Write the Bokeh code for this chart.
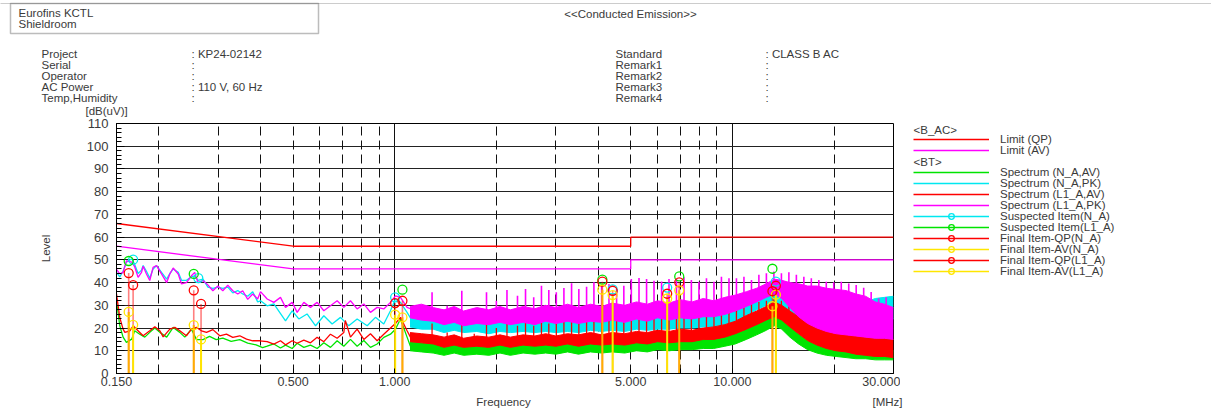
import numpy as np
from bokeh.plotting import figure
from bokeh.layouts import column, row
from bokeh.models import (Label, Legend, LegendItem, FixedTicker, Grid,
                          CustomJSTickFormatter, Range1d, BoxAnnotation)
from bokeh.embed import file_html
from bokeh.resources import INLINE

# ---------------- data (MHz, dB(uV)) ----------------
x_tick_vals = [0.15, 0.5, 1.0, 5.0, 10.0, 30.0]
x_minor_vals = [0.2, 0.3, 0.4, 0.6, 0.7, 0.8, 0.9, 2, 3, 4, 6, 7, 8, 9, 20]
x_dash_grid = [0.2, 0.3, 0.4, 0.5, 0.6, 0.7, 0.8, 0.9, 2, 3, 4, 5, 6, 7, 8, 9, 20]
x_solid_grid = [1.0, 10.0]
y_tick_vals = list(range(0, 111, 10))
y_minor_vals = list(range(0, 111, 2))

limit_f = [0.15, 0.5, 0.5, 5.0, 5.0, 30.0]
limit_qp = [66, 56, 56, 56, 60, 60]
limit_av = [56, 46, 46, 46, 50, 50]

# L1_A PK (magenta) low-frequency part
l1pk_f = [0.150, 0.1534, 0.1569, 0.1605, 0.1664, 0.1698, 0.1738, 0.1779, 0.1799, 0.1840,
          0.1882, 0.1925, 0.1971, 0.2039, 0.2112, 0.2158, 0.2208, 0.2285, 0.2337, 0.2416,
          0.2501, 0.2557, 0.2615, 0.2705, 0.2797, 0.2894, 0.2994, 0.3097, 0.3204, 0.3315,
          0.3429, 0.3547, 0.3670, 0.3797, 0.3928, 0.4005, 0.4191, 0.4386, 0.4589, 0.4749,
          0.4970, 0.5142, 0.5381, 0.5631, 0.5893, 0.6167, 0.6453, 0.6753, 0.7067, 0.7395,
          0.7740, 0.8100, 0.8476, 0.8871, 0.9282, 0.9714, 1.005, 1.040, 1.088, 1.113]
l1pk_db = [45.8, 43.8, 44.5, 49.6, 49.0, 47.0, 42.3, 44.5, 47.2, 43.8,
           40.9, 46.7, 47.5, 43.8, 40.0, 43.8, 46.4, 43.8, 39.4, 40.0,
           43.0, 44.5, 40.0, 40.9, 39.0, 36.4, 38.5, 36.4, 38.9, 36.4,
           35.0, 36.4, 32.6, 35.0, 32.8, 36.0, 32.8, 31.3, 33.5, 29.1,
           31.3, 26.9, 31.3, 29.1, 31.3, 27.6, 29.8, 32.0, 29.1, 32.0,
           28.4, 30.6, 26.9, 29.1, 28.4, 31.3, 34.2, 33.5, 29.1, 28.5]

# N_A PK (cyan) low-frequency part
npk_f = [0.150, 0.1534, 0.1569, 0.1605, 0.1664, 0.1698, 0.1738, 0.1779, 0.1799, 0.1840,
         0.1882, 0.1925, 0.1971, 0.2039, 0.2112, 0.2158, 0.2208, 0.2285, 0.2337, 0.2416,
         0.2501, 0.2557, 0.2615, 0.2705, 0.2797, 0.2894, 0.2994, 0.3097, 0.3204, 0.3315,
         0.3429, 0.3547, 0.3670, 0.3797, 0.3928, 0.4005, 0.4191, 0.4386, 0.4749, 0.4970,
         0.5200, 0.5500, 0.5830, 0.6167, 0.6525, 0.6910, 0.7310, 0.7740, 0.8290, 0.8770,
         0.9280, 0.9714, 1.005, 1.040, 1.088, 1.113]
npk_db = [44.5, 42.5, 45.0, 49.0, 50.5, 48.0, 44.0, 45.5, 47.5, 45.0,
          42.0, 46.0, 47.5, 44.5, 41.5, 44.0, 46.0, 44.5, 41.0, 41.0,
          42.5, 43.0, 41.0, 41.5, 38.0, 37.5, 38.0, 37.5, 38.0, 35.5,
          36.5, 35.0, 34.0, 36.0, 31.5, 32.0, 29.8, 30.6, 23.2, 27.6,
          24.0, 26.2, 21.0, 25.4, 21.8, 24.7, 21.0, 24.0, 21.0, 24.7,
          21.8, 27.6, 32.8, 31.3, 26.9, 24.5]

# L1_A AV (red) low-frequency part
l1av_f = [0.150, 0.1534, 0.1569, 0.1588, 0.1643, 0.1681, 0.1719, 0.1799, 0.1882, 0.1948,
          0.2016, 0.2062, 0.2158, 0.2233, 0.2310, 0.2416, 0.2501, 0.2588, 0.2678, 0.2771,
          0.2894, 0.3034, 0.3175, 0.3315, 0.3477, 0.3640, 0.3797, 0.3987, 0.4191, 0.4386,
          0.4589, 0.4749, 0.4970, 0.5142, 0.5381, 0.5631, 0.5893, 0.6167, 0.6453, 0.6753,
          0.7067, 0.7140, 0.7395, 0.7740, 0.8100, 0.8476, 0.8871, 0.9282, 0.9714, 1.005,
          1.040, 1.088, 1.113]
l1av_db = [35.0, 24.6, 19.5, 18.1, 18.8, 21.0, 19.5, 16.6, 18.8, 20.6,
           18.8, 16.1, 19.5, 20.3, 18.8, 16.6, 19.5, 20.3, 18.8, 18.1,
           19.3, 16.6, 17.3, 15.9, 16.6, 15.1, 14.4, 14.4, 14.0, 12.9,
           14.4, 12.6, 14.4, 13.3, 14.7, 13.5, 15.9, 14.0, 17.3, 15.5,
           18.0, 23.3, 16.0, 19.5, 15.0, 17.5, 14.4, 17.3, 20.0, 22.0,
           24.7, 18.8, 16.0]

# N_A AV (green) low-frequency part
nav_f = [0.150, 0.1534, 0.1569, 0.1605, 0.1664, 0.1698, 0.1758, 0.1819, 0.1882, 0.1948,
         0.2016, 0.2112, 0.2208, 0.2310, 0.2390, 0.2501, 0.2588, 0.2705, 0.2829, 0.2960,
         0.3097, 0.3278, 0.3477, 0.3670, 0.3885, 0.4063, 0.4191, 0.4386, 0.4589, 0.4749,
         0.4970, 0.5142, 0.5381, 0.5631, 0.5893, 0.6167, 0.6453, 0.6753, 0.7067, 0.7395,
         0.7740, 0.8100, 0.8476, 0.8871, 0.9282, 0.9714, 1.005, 1.040, 1.088, 1.113]
nav_db = [32.0, 21.0, 16.0, 13.7, 15.1, 18.8, 17.3, 16.0, 18.1, 20.0,
          18.1, 16.0, 20.3, 18.1, 16.0, 19.5, 14.9, 14.9, 16.3, 14.9,
          15.6, 14.1, 14.9, 13.4, 12.6, 11.4, 12.0, 13.0, 11.2, 12.5,
          11.0, 13.3, 11.5, 12.5, 11.0, 13.5, 11.5, 14.4, 12.0, 15.0,
          12.0, 14.5, 11.5, 13.0, 15.9, 17.3, 19.5, 24.0, 16.0, 12.0]

# dense (noise band) part above ~1.1 MHz: lower / upper edge of each trace
band_f = [1.11, 1.2, 1.3, 1.4, 1.5, 1.6, 1.75, 1.9, 2.05, 2.2, 2.4, 2.6, 2.8, 3.0, 3.25,
          3.5, 3.8, 4.1, 4.4, 4.8, 5.2, 5.6, 6.0, 6.5, 7.0, 7.6, 8.2, 8.8, 9.5, 10.2,
          11.0, 11.8, 12.6, 13.3, 14.0, 14.8, 15.7, 16.7, 17.8, 19.0, 20.3, 21.7, 23.2,
          24.8, 26.5, 28.2, 30.0]
mg_hi = [29.5, 30.5, 29.0, 28.0, 29.5, 27.5, 29.0, 28.0, 29.5, 28.0, 29.5, 28.5, 30.0, 29.0, 30.5,
         29.0, 30.5, 29.5, 31.0, 30.0, 31.5, 30.5, 32.0, 31.0, 32.5, 31.5, 33.0, 32.0, 33.5, 34.5,
         36.0, 37.5, 39.5, 41.5, 41.0, 40.0, 39.5, 38.5, 38.5, 37.5, 37.0, 36.5, 35.0,
         34.0, 31.5, 30.5, 29.0]
mg_lo = [24.5, 23.5, 23.0, 21.5, 22.5, 21.0, 22.0, 21.5, 22.5, 21.5, 22.5, 21.5, 23.0, 22.0, 23.0,
         22.0, 23.0, 22.5, 23.5, 22.5, 24.0, 23.0, 24.5, 23.5, 24.5, 24.0, 25.0, 25.0, 26.0, 27.5,
         29.5, 31.5, 33.5, 35.0, 33.0, 29.0, 25.0, 22.0, 20.0, 18.5, 17.5, 17.0, 16.5,
         16.0, 15.5, 15.5, 15.0]
cy_hi = [24.5, 25.5, 24.5, 23.5, 24.0, 22.5, 23.5, 22.5, 24.0, 23.0, 24.0, 23.0, 24.0, 23.0, 24.0,
         23.0, 24.0, 23.5, 24.5, 23.5, 25.0, 24.0, 25.0, 24.5, 25.5, 25.0, 26.0, 26.0, 27.0, 28.5,
         31.0, 33.5, 35.5, 38.0, 36.5, 34.0, 32.0, 31.0, 30.5, 30.0, 30.0, 30.5, 31.0,
         31.5, 33.0, 33.5, 34.0]
cy_lo = [20.5, 19.5, 19.5, 18.0, 19.0, 18.0, 18.5, 17.5, 18.5, 18.0, 18.5, 18.0, 18.5, 18.0, 18.5,
         18.0, 19.0, 18.5, 19.0, 18.5, 19.5, 19.0, 19.5, 19.5, 20.0, 20.0, 20.5, 20.5, 21.5, 23.0,
         25.5, 28.0, 30.0, 31.5, 29.5, 26.0, 23.0, 21.0, 19.5, 19.0, 19.0, 19.5, 20.0,
         21.0, 22.0, 23.0, 24.0]
rd_hi = [18.0, 17.5, 17.0, 16.0, 17.0, 15.5, 16.5, 16.0, 17.0, 16.0, 17.0, 16.5, 17.5, 16.5, 17.5,
         17.0, 18.0, 17.0, 18.0, 17.5, 18.5, 18.0, 19.0, 18.5, 19.5, 19.0, 20.0, 20.5, 21.5, 23.0,
         25.5, 27.5, 29.5, 31.5, 30.0, 27.5, 25.0, 22.5, 20.5, 19.0, 18.0, 17.0, 16.5,
         16.0, 15.5, 15.5, 15.0]
rd_lo = [14.0, 13.5, 13.0, 11.5, 12.5, 11.5, 12.0, 11.5, 12.5, 11.5, 12.5, 12.0, 12.5, 12.0, 13.0,
         12.0, 13.0, 12.5, 13.0, 12.5, 13.5, 13.0, 14.0, 13.5, 14.0, 14.0, 15.0, 15.0, 16.0, 17.5,
         19.5, 21.5, 23.5, 25.0, 23.5, 20.5, 17.5, 14.5, 12.5, 11.0, 10.0, 9.5, 8.5,
         8.0, 7.5, 7.5, 7.0]
gr_hi = [14.0, 13.5, 13.0, 12.0, 13.0, 12.0, 12.5, 12.0, 13.0, 12.0, 13.0, 12.5, 13.0, 12.5, 13.5,
         12.5, 13.5, 13.0, 13.5, 13.0, 14.0, 13.5, 14.5, 14.0, 15.0, 14.5, 15.5, 15.5, 16.5, 18.0,
         20.0, 22.0, 24.0, 26.0, 24.5, 21.0, 17.5, 14.5, 12.5, 11.5, 11.0, 10.5, 10.0,
         10.0, 10.0, 10.0, 10.0]
gr_lo = [10.0, 9.5, 9.0, 8.0, 9.0, 8.0, 8.5, 8.0, 9.0, 8.0, 9.0, 8.5, 9.0, 8.5, 9.5,
         8.5, 9.5, 9.0, 9.5, 9.0, 10.0, 9.5, 10.5, 10.0, 10.5, 10.5, 11.0, 11.0, 12.0, 13.0,
         15.0, 17.0, 19.0, 21.0, 19.5, 16.0, 13.0, 10.5, 9.0, 8.0, 7.5, 7.0, 6.5,
         6.5, 6.0, 6.0, 6.0]

# harmonic spikes (tops of the magenta PK trace and red AV trace)
spk_f = [1.29, 1.43, 1.58, 1.72, 1.87, 2.00, 2.15, 2.31, 2.44, 2.58, 2.72, 2.86, 3.01, 3.17,
         3.34, 3.51, 3.70, 3.89, 4.10, 4.31, 4.54, 4.77, 5.02, 5.29, 5.57, 5.86, 6.17, 6.49,
         6.83, 7.19, 7.56, 7.96, 8.38, 8.82, 9.28, 9.77, 10.28, 10.82, 11.39, 11.98, 12.61,
         13.27, 13.97, 14.70, 15.47, 16.28, 17.13, 18.03, 18.97, 19.96, 21.01, 22.11, 23.26,
         24.48, 25.76, 27.11, 28.53]
mg_spk_db = [35.7, 29.8, 36.4, 27.6, 35.7, 32.0, 36.7, 34.2, 37.2, 33.5, 38.6, 36.7, 35.7, 37.6,
             39.7, 37.2, 38.2, 40.1, 38.6, 39.4, 37.2, 38.6, 41.6, 42.0, 41.6, 40.8, 40.5, 41.6,
             41.6, 42.3, 41.1, 40.4, 41.9, 40.4, 42.6, 41.9, 41.9, 42.6, 41.1, 43.4, 44.1,
             44.9, 44.1, 44.6, 43.4, 42.6, 41.9, 41.1, 40.4, 40.1, 40.4, 39.6, 38.9,
             37.7, 35.9, 33.0, 33.6]
rd_spk_db = [22.0, 18.0, 23.0, 17.5, 22.5, 20.0, 23.0, 21.0, 23.5, 21.0, 24.0, 22.0, 24.0, 23.0,
             24.5, 23.0, 24.5, 25.0, 24.0, 25.0, 24.0, 25.0, 26.0, 26.5, 26.0, 26.0, 26.5, 27.0,
             27.0, 27.5, 27.0, 27.5, 28.0, 28.0, 28.5, 29.0, 30.0, 30.5, 31.0, 31.5, 32.0,
             33.0, 32.0, 30.0, 28.0, 26.0, 24.0, 22.0, 20.5, 19.5, 19.0, 18.5, 18.0,
             18.0, 17.5, 17.0, 17.0]

# suspected / final items
sus_n_f = [0.168, 0.262, 1.003, 4.42, 6.41, 13.45]
sus_n_db = [50.1, 42.0, 33.5, 37.0, 37.8, 40.4]
sus_l1_f = [0.163, 0.254, 1.054, 4.12, 6.96, 13.14]
sus_l1_db = [49.5, 43.8, 36.9, 41.3, 42.7, 46.1]
fin_n_f = [0.168, 0.267, 1.003, 4.42, 6.41, 13.45]
fin_n_qp = [38.9, 30.6, 31.0, 36.4, 35.1, 38.6]
fin_n_av = [21.4, 15.0, 25.9, 34.5, 33.0, 34.7]
fin_l1_f = [0.163, 0.254, 1.054, 4.12, 6.96, 13.14]
fin_l1_qp = [44.2, 36.6, 32.0, 40.4, 40.1, 36.2]
fin_l1_av = [27.1, 21.3, 24.7, 36.9, 36.6, 29.6]

# header texts
left_keys = ["Project", "Serial", "Operator", "AC Power", "Temp,Humidity"]
left_vals = [": KP24-02142", ":", ":", ": 110 V, 60 Hz", ":"]
right_keys = ["Standard", "Remark1", "Remark2", "Remark3", "Remark4"]
right_vals = [": CLASS B AC", ":", ":", ":", ":"]

# ---------------- styling ----------------
FONT = "Liberation Sans"
FS = "11.5px"
TXT = "#3a3a3a"
RED = "#FF0000"
MAG = "#FF00FF"
GRN = "#00E400"
CYN = "#00E8F0"
YEL = "#FFE600"
ORG = "#FFAE00"

TOTAL_W = 1211
HEAD_H = 117
MAIN_W = 900
MID_H = 275
FOOT_H = 19
FRAME_BOTTOM = 373  # reference y of the chart frame bottom (legend panel frame is aligned to it)


def blank(w, h):
    f = figure(width=w, height=h, output_backend="svg", toolbar_location=None,
               x_range=Range1d(0, 1), y_range=Range1d(0, 1),
               x_axis_location=None, y_axis_location=None,
               min_border=0, min_border_left=0, min_border_right=0,
               min_border_top=0, min_border_bottom=0)
    f.outline_line_color = None
    f.grid.visible = False
    f.background_fill_color = "white"
    f.border_fill_color = "white"
    return f


def add_txt(fig, s, sx, sy, align="left", size=FS, angle=0.0):
    fig.add_layout(Label(x=sx, y=sy, x_units="screen", y_units="screen",
                         text=s, text_align=align, text_baseline="middle",
                         text_font=FONT, text_font_size=size, text_color=TXT,
                         angle=angle))


# ---- header ----
head = blank(TOTAL_W, HEAD_H)
head.add_layout(BoxAnnotation(left=-20, right=TOTAL_W + 20, top=HEAD_H - 3, bottom=-50,
                              left_units="screen", right_units="screen",
                              top_units="screen", bottom_units="screen",
                              fill_alpha=0, line_color="#555555", line_width=1))
head.add_layout(BoxAnnotation(left=10, right=318, top=HEAD_H - 3, bottom=HEAD_H - 33,
                              left_units="screen", right_units="screen",
                              top_units="screen", bottom_units="screen",
                              fill_alpha=0, line_color="#222222", line_width=1.5))


def htxt(s, x, y, align="left"):
    add_txt(head, s, x, HEAD_H - y, align=align)


htxt("Eurofins KCTL", 18, 12)
htxt("Shieldroom", 18, 23)
htxt("<<Conducted Emission>>", 630, 13, align="center")
rows_y = [53, 64, 75, 86, 97]
for k, v, kk, vv, yy in zip(left_keys, left_vals, right_keys, right_vals, rows_y):
    htxt(k, 41, yy)
    htxt(v, 191, yy)
    htxt(kk, 615, yy)
    htxt(vv, 765, yy)
htxt("[dB(uV)]", 85, 110)

# ---- main chart ----
p = figure(width=MAIN_W, height=MID_H, x_axis_type="log",
           x_range=Range1d(0.15, 30), y_range=Range1d(0, 110),
           output_backend="svg", toolbar_location=None,
           min_border_left=116, min_border_right=7,
           min_border_top=6, min_border_bottom=19)
p.background_fill_color = "white"
p.border_fill_color = "white"
p.outline_line_color = "black"
p.outline_line_width = 1

yax = p.yaxis[0]
yax.ticker = FixedTicker(ticks=y_tick_vals, minor_ticks=y_minor_vals)
yax.major_tick_in = 8
yax.major_tick_out = 0
yax.minor_tick_in = 5
yax.minor_tick_out = 0
yax.major_label_standoff = 8
yax.major_label_text_font = FONT
yax.major_label_text_font_size = "13px"
yax.major_label_text_color = TXT
yax.axis_line_color = "black"
yax.axis_label = "Level"
yax.axis_label_text_font = FONT
yax.axis_label_text_font_size = FS
yax.axis_label_text_font_style = "normal"
yax.axis_label_text_color = TXT
yax.axis_label_standoff = 32

xax = p.xaxis[0]
xax.ticker = FixedTicker(ticks=x_tick_vals, minor_ticks=x_minor_vals)
xax.formatter = CustomJSTickFormatter(code="return tick.toFixed(3);")
xax.major_tick_in = 5
xax.major_tick_out = 0
xax.minor_tick_in = 5
xax.minor_tick_out = 0
xax.major_label_standoff = 3
xax.major_label_text_font = FONT
xax.major_label_text_font_size = "12.5px"
xax.major_label_text_color = TXT
xax.axis_line_color = "black"

p.ygrid.ticker = FixedTicker(ticks=y_tick_vals)
p.ygrid.grid_line_color = "#222222"
p.ygrid.grid_line_width = 1
p.xgrid.ticker = FixedTicker(ticks=x_solid_grid)
p.xgrid.grid_line_color = "#111111"
p.xgrid.grid_line_width = 1
p.add_layout(Grid(dimension=0, ticker=FixedTicker(ticks=x_dash_grid),
                  grid_line_color="#111111", grid_line_dash="9 5", grid_line_width=1))


def band(lo, hi, color):
    p.varea(x=band_f, y1=lo, y2=hi, fill_color=color, fill_alpha=1.0)
    p.line(band_f, hi, color=color, line_width=1)
    p.line(band_f, lo, color=color, line_width=1)


def base_of(lo):
    return np.interp(np.log10(spk_f), np.log10(band_f), lo)


# spectra (N_A AV, N_A PK, L1_A AV, L1_A PK)
band(gr_lo, gr_hi, GRN)
p.line(nav_f, nav_db, color=GRN, line_width=1.3)
band(cy_lo, cy_hi, CYN)
p.line(npk_f, npk_db, color=CYN, line_width=1.3)
band(rd_lo, rd_hi, RED)
p.segment(x0=spk_f, y0=base_of(rd_lo), x1=spk_f, y1=rd_spk_db, color=RED, line_width=1.3)
p.line(l1av_f, l1av_db, color=RED, line_width=1.3)
band(mg_lo, mg_hi, MAG)
p.segment(x0=spk_f, y0=base_of(mg_lo), x1=spk_f, y1=mg_spk_db, color=MAG, line_width=1.6)
p.line(l1pk_f, l1pk_db, color=MAG, line_width=1.3)

# limits
p.line(limit_f, limit_qp, color=RED, line_width=1.3)
p.line(limit_f, limit_av, color=MAG, line_width=1.3)

# final item stems
zeros = [0] * len(fin_n_f)
p.segment(x0=fin_n_f, y0=zeros, x1=fin_n_f, y1=fin_n_qp, color=RED, line_alpha=0.5, line_width=1.6)
p.segment(x0=fin_l1_f, y0=zeros, x1=fin_l1_f, y1=fin_l1_qp, color=RED, line_alpha=0.5, line_width=1.6)
p.segment(x0=fin_n_f, y0=zeros, x1=fin_n_f, y1=fin_n_av, color=YEL, line_width=2)
p.segment(x0=fin_l1_f, y0=zeros, x1=fin_l1_f, y1=fin_l1_av, color=ORG, line_width=2)


def rings(fig, f, db, color, size=9):
    return fig.scatter(f, db, marker="circle", size=size, fill_alpha=0,
                       line_color=color, line_width=1.3)


rings(p, sus_n_f, sus_n_db, CYN)
rings(p, sus_l1_f, sus_l1_db, GRN)
rings(p, fin_n_f, fin_n_qp, RED)
rings(p, fin_n_f, fin_n_av, YEL)
rings(p, fin_l1_f, fin_l1_qp, RED)
rings(p, fin_l1_f, fin_l1_av, YEL)

# ---- legend panel ----
lg = blank(TOTAL_W - MAIN_W, MID_H)
LG_X0 = MAIN_W
NAN = [float("nan")]


def lg_line(color):
    return lg.line(NAN, NAN, color=color, line_width=1.3)


def lg_ring(color):
    return lg.scatter(NAN, NAN, marker="circle", size=8, fill_alpha=0,
                      line_color=color, line_width=1.3)


def add_leg(label, renderers, yc):
    h = 14
    leg = Legend(items=[LegendItem(label=label, renderers=renderers)],
                 location=(913 - LG_X0, FRAME_BOTTOM - yc - h / 2),
                 glyph_width=76, glyph_height=h, label_height=h, label_width=10,
                 label_standoff=11, padding=0, margin=0, spacing=0,
                 border_line_alpha=0, background_fill_alpha=0,
                 label_text_font=FONT, label_text_font_size=FS,
                 label_text_color=TXT)
    lg.add_layout(leg)


add_leg("Limit (QP)", [lg_line(RED)], 139)
add_leg("Limit (AV)", [lg_line(MAG)], 150)
add_leg("Spectrum (N_A,AV)", [lg_line(GRN)], 171.5)
add_leg("Spectrum (N_A,PK)", [lg_line(CYN)], 182.5)
add_leg("Spectrum (L1_A,AV)", [lg_line(RED)], 193.5)
add_leg("Spectrum (L1_A,PK)", [lg_line(MAG)], 204.5)
add_leg("Suspected Item(N_A)", [lg_line(CYN), lg_ring(CYN)], 215.5)
add_leg("Suspected Item(L1_A)", [lg_line(GRN), lg_ring(GRN)], 226.5)
add_leg("Final Item-QP(N_A)", [lg_line(RED), lg_ring(RED)], 237.5)
add_leg("Final Item-AV(N_A)", [lg_line(YEL), lg_ring(YEL)], 248.5)
add_leg("Final Item-QP(L1_A)", [lg_line(RED), lg_ring(RED)], 259.5)
add_leg("Final Item-AV(L1_A)", [lg_line(YEL), lg_ring(YEL)], 270.5)
add_txt(lg, "<B_AC>", 913 - LG_X0, FRAME_BOTTOM - 129)
add_txt(lg, "<BT>", 913 - LG_X0, FRAME_BOTTOM - 161)

# ---- footer ----
foot = blank(TOTAL_W, FOOT_H)
FOOT_TOP = HEAD_H + MID_H
add_txt(foot, "Frequency", 503, FOOT_TOP + FOOT_H - 401, align="center")
add_txt(foot, "[MHz]", 872, FOOT_TOP + FOOT_H - 401)

layout = column(head, row(p, lg), foot)
open("out.html", "w").write(file_html(layout, INLINE))
